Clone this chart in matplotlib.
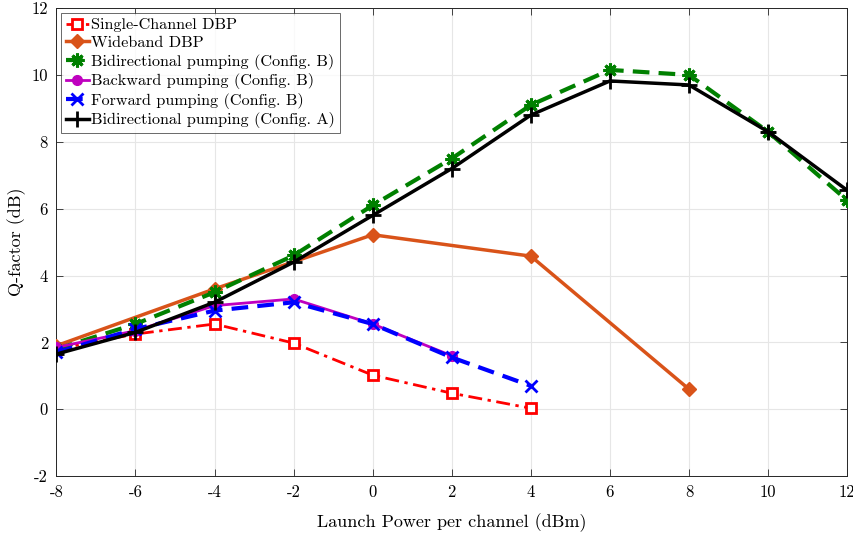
import matplotlib
matplotlib.use("Agg")
import matplotlib.pyplot as plt
from matplotlib.ticker import FuncFormatter

plt.rcParams['font.family'] = ['cmr10', 'DejaVu Serif']
plt.rcParams['axes.unicode_minus'] = False
plt.rcParams['axes.formatter.use_mathtext'] = False

x_single = [-8, -6, -4, -2, 0, 2, 4]
q_single = [1.8, 2.25, 2.55, 1.98, 1.02, 0.48, 0.03]

x_wide = [-8, -4, 0, 4, 8]
q_wide = [1.9, 3.6, 5.22, 4.58, 0.6]

x_bidiB = [-8, -6, -4, -2, 0, 2, 4, 6, 8, 10, 12]
q_bidiB = [1.8, 2.55, 3.5, 4.6, 6.1, 7.5, 9.1, 10.15, 10.0, 8.3, 6.25]

x_back = [-8, -6, -4, -2, 0, 2]
q_back = [1.85, 2.35, 3.1, 3.3, 2.55, 1.6]

x_fwd = [-8, -6, -4, -2, 0, 2, 4]
q_fwd = [1.7, 2.4, 2.95, 3.2, 2.55, 1.55, 0.7]

x_bidiA = [-8, -6, -4, -2, 0, 2, 4, 6, 8, 10, 12]
q_bidiA = [1.65, 2.3, 3.2, 4.4, 5.8, 7.2, 8.8, 9.82, 9.7, 8.3, 6.55]

labels = ['Single-Channel DBP', 'Wideband DBP', 'Bidirectional pumping (Config. B)',
          'Backward pumping (Config. B)', 'Forward pumping (Config. B)',
          'Bidirectional pumping (Config. A)']

fig = plt.figure(figsize=(8.54, 5.38), dpi=100)
ax = fig.add_axes([0.066, 0.115, 0.926, 0.87])

ax.plot(x_single, q_single, color='#ff0000', ls=(0, (5, 2, 1.2, 2)), lw=2, marker='s',
        ms=6.5, mfc='white', mec='#ff0000', mew=2, label=labels[0], zorder=3)
ax.plot(x_wide, q_wide, color='#d95319', ls='-', lw=2.5, marker='D', ms=7,
        mfc='#d95319', mec='#d95319', label=labels[1], zorder=3)
ax.plot(x_bidiB, q_bidiB, color='#008000', ls=(0, (4, 2.2)), lw=3, marker=(8, 2, 0), ms=10,
        mec='#008000', mew=2.2, label=labels[2], zorder=4)
ax.plot(x_back, q_back, color='#bf00bf', ls='-', lw=2, marker='o', ms=7,
        mfc='#bf00bf', mec='#bf00bf', label=labels[3], zorder=4)
ax.plot(x_fwd, q_fwd, color='#0000ff', ls=(0, (4, 2.2)), lw=3, marker='x', ms=9,
        mew=2, label=labels[4], zorder=5)
ax.plot(x_bidiA, q_bidiA, color='black', ls='-', lw=2.5, marker='+', ms=11,
        mew=2, label=labels[5], zorder=5)

ax.set_xlim(-8, 12)
ax.set_ylim(-2, 12)
ax.set_xticks(range(-8, 13, 2))
ax.set_yticks(range(-2, 13, 2))
fmt = FuncFormatter(lambda v, p: '%d' % v)
ax.xaxis.set_major_formatter(fmt)
ax.yaxis.set_major_formatter(fmt)
ax.grid(True, color='#e6e6e6', lw=0.8)
ax.set_axisbelow(True)
ax.tick_params(direction='in', top=True, right=True, length=5, width=0.6,
               color='#262626', labelsize=12, pad=6)
for s in ax.spines.values():
    s.set_color('#262626')
    s.set_linewidth(0.7)

ax.set_xlabel('Launch Power per channel (dBm)', fontsize=13, labelpad=10)
ax.set_ylabel('Q-factor (dB)', fontsize=13, labelpad=4)

leg = ax.legend(loc='upper left', fontsize=11.7, frameon=True, fancybox=False,
                edgecolor='#262626', handlelength=1.4, handletextpad=0.15,
                borderpad=0.3, labelspacing=0.22, borderaxespad=0.3,
                markerscale=1.0)
leg.get_frame().set_linewidth(0.6)

fig.savefig('out.png', dpi=100)
